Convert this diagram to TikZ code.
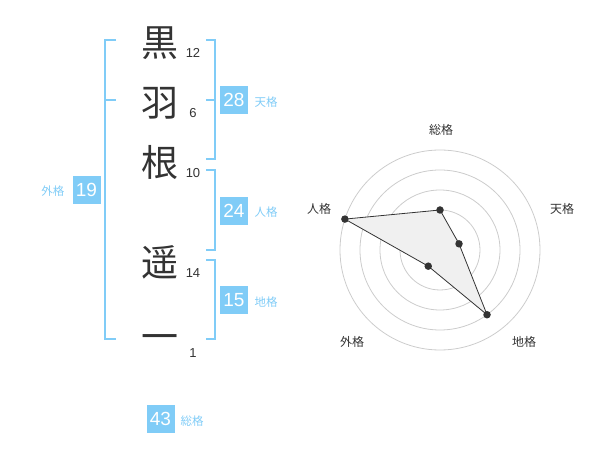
\documentclass[tikz,border=0pt]{standalone}
\usepackage{fontspec}
\usetikzlibrary{calc}
\setmainfont{Liberation Sans}
\newfontfamily\jp{Noto Sans CJK JP}
\definecolor{kblue}{HTML}{80CCF7}
\definecolor{ktext}{HTML}{333333}
\begin{document}
\begin{tikzpicture}[x=1pt,y=-1pt,
 kanji/.style={font=\jp\fontsize{37}{37}\selectfont, text=ktext, inner sep=0},
 strokes/.style={font=\fontsize{13}{13}\selectfont, text=ktext, inner sep=0},
 valbox/.style={fill=kblue, text=white, font=\fontsize{19}{19}\selectfont, minimum width=28pt, minimum height=28pt, inner sep=0},
 kaku/.style={font=\jp\fontsize{11.5}{11.5}\selectfont, text=kblue, inner sep=0},
 brk/.style={draw=kblue, line width=2pt},
 ring/.style={draw=black!20, line width=0.8pt},
 rlabel/.style={font=\jp\fontsize{12}{12}\selectfont, text=ktext, inner sep=0},
 dot/.style={circle, fill=ktext, inner sep=0, minimum size=7.5pt}]
\useasboundingbox (0,0) rectangle (600,470);
% kanji
\node[kanji] (k1) at (160,43) {黒};
\node[kanji] (k2) at (160,103) {羽};
\node[kanji] (k3) at (160,162) {根};
\node[kanji] (k4) at (160,262) {遥};
\node[kanji] (k5) at (160,343) {一};
% stroke counts
\node[strokes] (s1) at (193,53) {12};
\node[strokes] (s2) at (193,113) {6};
\node[strokes] (s3) at (193,173) {10};
\node[strokes] (s4) at (193,273) {14};
\node[strokes] (s5) at (193,353) {1};
% brackets
\draw[brk] (116,40) -- (105,40) -- (105,339) -- (116,339);
\draw[brk] (105,100) -- (116,100);
\draw[brk] (206,40) -- (215,40) -- (215,159) -- (206,159);
\draw[brk] (206,100) -- (215,100);
\draw[brk] (206,170) -- (215,170) -- (215,250) -- (206,250);
\draw[brk] (206,260) -- (215,260) -- (215,339) -- (206,339);
% value boxes
\node[valbox] (ten) at (234,100) {28};
\node[kaku] (tenl) at (266,102) {天格};
\node[valbox] (jin) at (234,211) {24};
\node[kaku] (jinl) at (266,212) {人格};
\node[valbox] (chi) at (234,300) {15};
\node[kaku] (chil) at (266,302) {地格};
\node[valbox] (gai) at (86.5,190) {19};
\node[kaku] (gail) at (53,191) {外格};
\node[valbox] (sou) at (160.5,419) {43};
\node[kaku] (soul) at (192,421) {総格};
% radar
\coordinate (c) at (440,250);
\foreach \r in {20,40,60,80,100} \draw[ring] (c) circle (\r);
\fill[black!18] (c) circle (4);
\coordinate (psou) at ($(c)+(-90:40)$);
\coordinate (pten) at ($(c)+(-18:20)$);
\coordinate (pchi) at ($(c)+(54:80)$);
\coordinate (pgai) at ($(c)+(126:20)$);
\coordinate (pjin) at ($(c)+(-162:100)$);
\filldraw[fill=black!6, draw=ktext, line width=0.8pt] (psou) -- (pten) -- (pchi) -- (pgai) -- (pjin) -- cycle;
\foreach \p in {psou,pten,pchi,pgai,pjin} \node[dot] at (\p) {};
\node[rlabel] (lsou) at (441,130) {総格};
\node[rlabel] (lten) at (562,209) {天格};
\node[rlabel] (lchi) at (524,342) {地格};
\node[rlabel] (lgai) at (352,342) {外格};
\node[rlabel] (ljin) at (319,209) {人格};
\end{tikzpicture}
\end{document}
